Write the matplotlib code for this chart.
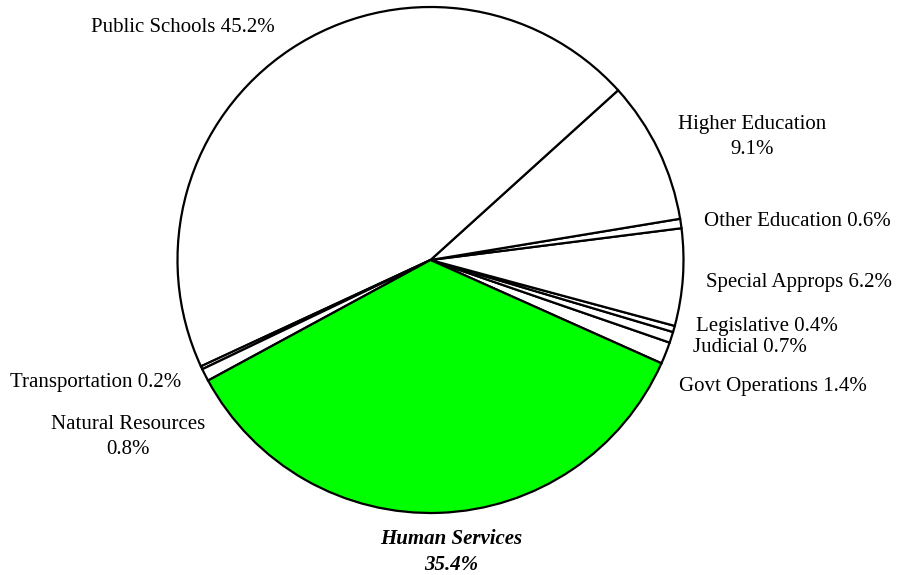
import matplotlib.pyplot as plt

plt.rcParams['font.family'] = ['Liberation Serif', 'DejaVu Serif']

# budget shares, listed counterclockwise starting from Govt Operations
categories = ['Govt Operations', 'Judicial', 'Legislative', 'Special Approps',
              'Other Education', 'Higher Education', 'Public Schools',
              'Transportation', 'Natural Resources', 'Human Services']
shares = [1.4, 0.7, 0.4, 6.2, 0.6, 9.1, 45.2, 0.2, 0.8, 35.4]
label_text = ['Govt Operations 1.4%', 'Judicial 0.7%', 'Legislative 0.4%',
              'Special Approps 6.2%', 'Other Education 0.6%',
              'Higher Education\n9.1%', 'Public Schools 45.2%',
              'Transportation 0.2%', 'Natural Resources\n0.8%',
              'Human Services\n35.4%']

# label anchor points in pixels (x from left, y from top)
label_pos = [(773, 386), (750, 347), (767, 327), (799, 283), (797, 222),
             (752, 137), (183, 27), (96, 382), (128, 437), (451, 552)]

W, H = 911, 575
fig = plt.figure(figsize=(W / 100, H / 100), dpi=100)
ax = fig.add_axes([0, 0, 1, 1])

colors = ['white'] * len(shares)
colors[categories.index('Human Services')] = '#00ff00'

cx, cy, r = 430.5, H - 260, 253
ax.pie(shares, colors=colors, startangle=-24.1, center=(cx, cy), radius=r,
       wedgeprops=dict(edgecolor='black', linewidth=1.6), frame=True)
ax.set_xlim(0, W)
ax.set_ylim(0, H)
ax.axis('off')

for name, txt, (px, py) in zip(categories, label_text, label_pos):
    style = dict(fontsize=15, ha='center', va='center', linespacing=1.4)
    if name == 'Human Services':
        style.update(fontweight='bold', fontstyle='italic')
    ax.text(px, H - py, txt, **style)

fig.savefig('out.png', dpi=100)
